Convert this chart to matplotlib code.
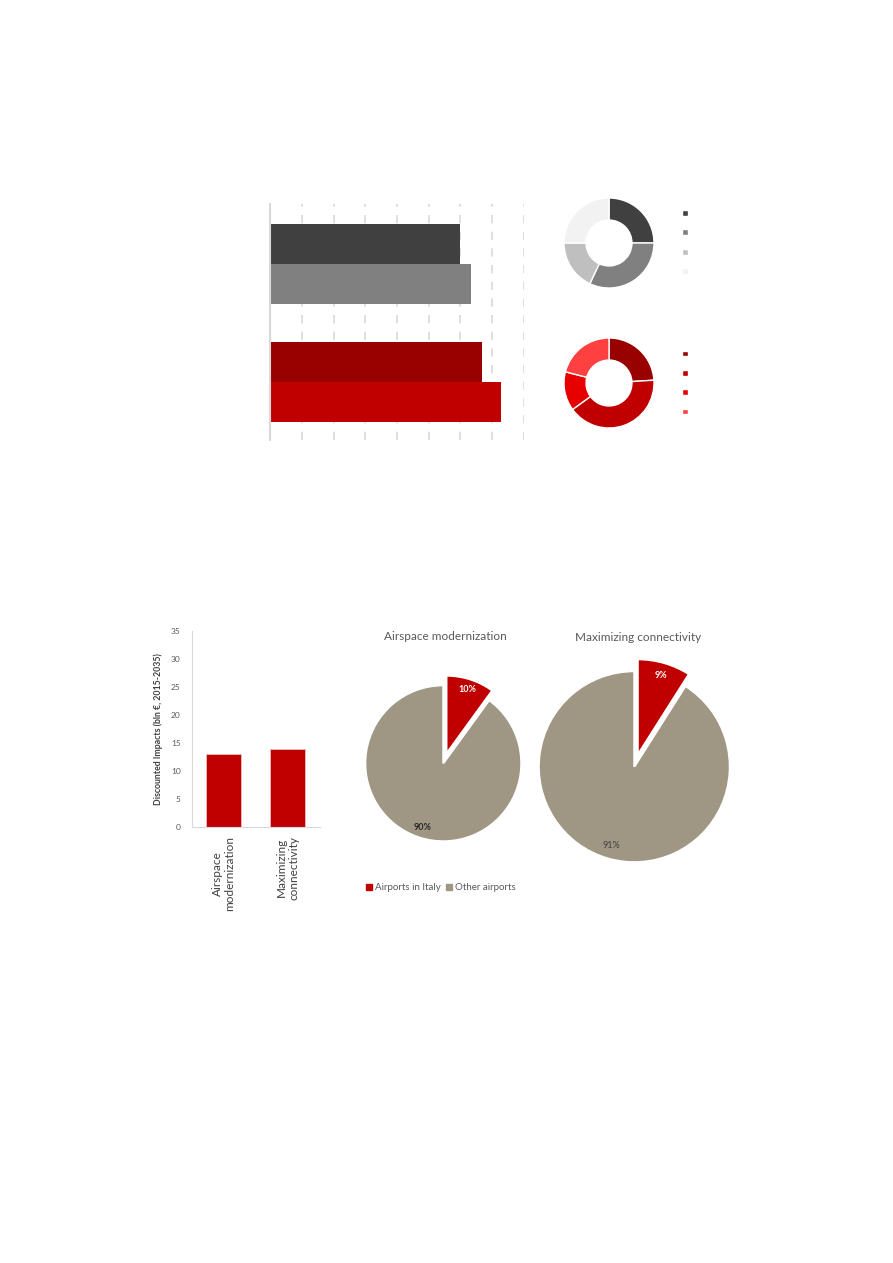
import matplotlib
matplotlib.use("Agg")
import matplotlib.pyplot as plt
from matplotlib.patches import Patch

W, H = 893, 1263

# --- top infographic data ---
top_bar_values = [6.0, 6.35, 6.7, 7.3]
top_bar_pos = [-0.17, 0.17, 0.83, 1.17]
top_bar_colors = ["#404040", "#808080", "#990000", "#c00000"]

donut_grey = [25, 32, 18, 25]
donut_grey_colors = ["#404040", "#808080", "#bfbfbf", "#f2f2f2"]
donut_red = [24, 41, 14, 21]
donut_red_colors = ["#990000", "#c00000", "#e60000", "#ff4040"]

# --- bottom chart data ---
projects = ["Airspace\nmodernization", "Maximizing\nconnectivity"]
impacts = [13, 14]
pie_titles = ["Airspace modernization", "Maximizing connectivity"]
italy_share = [10, 9]
pie_labels = ["Airports in Italy", "Other airports"]
pie_colors = ["#c00000", "#9f9684"]

plt.rcParams["font.family"] = ["Lato", "DejaVu Sans"]
fig = plt.figure(figsize=(W / 100, H / 100), dpi=100)


def px_axes(x0, y0, x1, y1):
    return fig.add_axes([x0 / W, 1 - y1 / H, (x1 - x0) / W, (y1 - y0) / H])


# top horizontal bars
ax = px_axes(270.3, 204, 524.3, 440)
ax.barh(top_bar_pos, top_bar_values, height=0.34, color=top_bar_colors, zorder=2)
ax.set_xlim(0, 8.02)
ax.set_ylim(1.49, -0.51)
ax.set_xticks(range(1, 9))
ax.set_yticks([])
ax.grid(axis="x", color="#d9d9d9", linestyle=(0, (5, 5)), linewidth=1.2, zorder=0)
ax.tick_params(length=0, labelbottom=False)
for s in ["top", "right", "bottom"]:
    ax.spines[s].set_visible(False)
ax.spines["left"].set_color("#d9d9d9")
ax.spines["left"].set_linewidth(1.5)


def donut(cx, cy, r, vals, cols, leg_y):
    a = px_axes(cx - 1.2 * r, cy - 1.2 * r, cx + 1.2 * r, cy + 1.2 * r)
    wedges, _ = a.pie(vals, colors=cols, startangle=90, counterclock=False,
                      radius=1, wedgeprops=dict(width=0.49, edgecolor="white", linewidth=1.0))
    a.set_xlim(-1.2, 1.2)
    a.set_ylim(-1.2, 1.2)
    fig.legend(wedges, ["", "", "", ""], loc="upper left",
               bbox_to_anchor=(682 / W, 1 - leg_y / H), frameon=False,
               fontsize=5.5, handlelength=0.75, handleheight=0.75, labelspacing=1.63,
               handletextpad=0, borderpad=0, borderaxespad=0)


donut(609, 243, 45, donut_grey, donut_grey_colors, 209.5)
donut(609, 383, 45, donut_red, donut_red_colors, 350)

# bottom bar chart
bx = px_axes(191.7, 630.7, 320, 827.3)
bx.bar(range(len(projects)), impacts, width=0.55, color="#c00000",
       edgecolor="#e8c0c0", linewidth=0.6)
bx.set_xlim(-0.49, 1.5)
bx.set_ylim(0, 35)
bx.set_yticks(range(0, 36, 5))
bx.set_xticks(range(len(projects)))
bx.set_xticklabels(projects, rotation=90, fontsize=8.5, color="#404040",
                   ha="center", va="top", linespacing=1.1)
bx.tick_params(axis="y", labelsize=6, labelcolor="#595959", length=0, pad=8)
bx.tick_params(axis="x", length=0, pad=6)
for s in ["top", "right"]:
    bx.spines[s].set_visible(False)
for s in ["left", "bottom"]:
    bx.spines[s].set_color("#d9d9d9")
bx.set_ylabel("Discounted Impacts (bln €, 2015-2035)", fontsize=6.3,
              fontweight="bold", color="#404040", labelpad=6)

# pies
pie_specs = [(443.3, 763.3, 78, 636), (634.3, 766.7, 95.5, 637)]
for i, (cx, cy, r, ty) in enumerate(pie_specs):
    pad = 1.25
    a = px_axes(cx - pad * r, cy - pad * r, cx + pad * r, cy + pad * r)
    vals = [italy_share[i], 100 - italy_share[i]]
    wedges, texts, autos = a.pie(vals, colors=pie_colors, startangle=90,
                                 counterclock=False, explode=[0.13, 0],
                                 autopct="%.0f%%", pctdistance=0.86,
                                 wedgeprops=dict(edgecolor="white", linewidth=1.5))
    a.set_xlim(-pad, pad)
    a.set_ylim(-pad, pad)
    autos[0].set_color("white")
    autos[0].set_fontweight("bold")
    autos[0].set_fontsize(6.5)
    autos[1].set_color("#262626" if i == 0 else "#404040")
    autos[1].set_fontweight("bold" if i == 0 else "normal")
    autos[1].set_fontsize(6.5)
    fig.text(cx / W + (0.002 if i == 0 else 0.004), 1 - ty / H, pie_titles[i],
             ha="center", va="center", fontsize=8.5, color="#595959")

fig.legend([Patch(color=c) for c in pie_colors], pie_labels, loc="center left",
           bbox_to_anchor=(366 / W, 1 - 888 / H), ncol=2, frameon=False,
           fontsize=7, labelcolor="#595959", handlelength=0.6, handleheight=0.6,
           handletextpad=0.3, columnspacing=0.6, borderpad=0, borderaxespad=0)

fig.savefig("out.png", dpi=100)
